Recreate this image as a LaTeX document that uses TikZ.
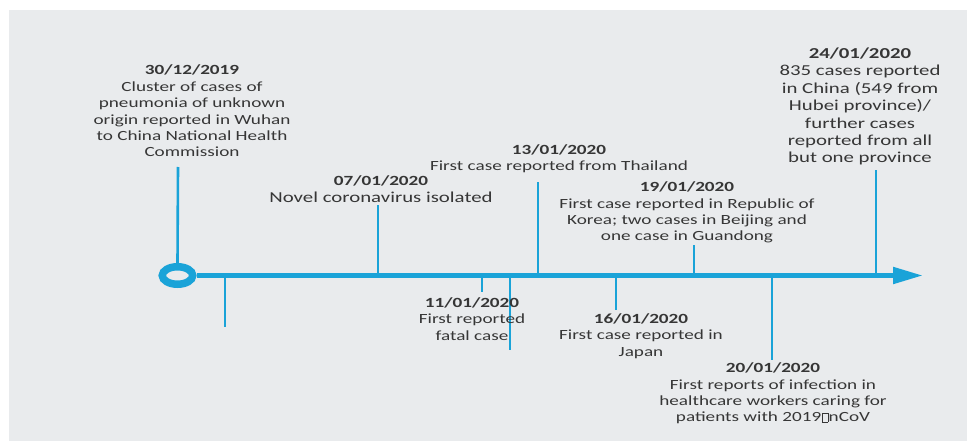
\documentclass[tikz,border=0pt]{standalone}
\usepackage{fontspec}
\setmainfont{Carlito}[FakeStretch=1.37]
\usetikzlibrary{arrows.meta,shapes.geometric}
\definecolor{panelgrey}{HTML}{E9EBED}
\definecolor{tlblue}{HTML}{1AA3D8}
\definecolor{txtgrey}{HTML}{363636}
\newcommand\basefs{\fontsize{14}{16.4}\selectfont}
\newcommand\bigfs{\fontsize{15.2}{17.4}\selectfont}
\newcommand\tofubox{{\setlength\fboxsep{0pt}\setlength\fboxrule{0.6pt}\kern0.6pt\fbox{\rule{0pt}{0.62em}\hspace{0.36em}}\kern0.6pt}}
\tikzset{
  evtext/.style={align=center, inner sep=0pt, text=txtgrey, font=\basefs},
  evbig/.style={evtext, font=\bigfs},
  tick/.style={draw=tlblue, line width=2.6pt},
  axisline/.style={draw=tlblue, line width=5pt},
}
\begin{document}
\begin{tikzpicture}[x=1pt,y=-1pt]
\useasboundingbox (0,0) rectangle (967,441);
\fill[white] (0,0) rectangle (967,441);
\fill[panelgrey] (9,10) rectangle (967,441);

% axis
\node[ellipse, draw=tlblue, line width=7.5pt, fill=panelgrey, minimum width=30.5pt, minimum height=17.5pt, inner sep=0pt] (start) at (177.5,275.5) {};
\coordinate (tip) at (923,275.5);
\draw[axisline, -{Triangle[length=30pt,width=16pt]}] (start.east) -- (tip);

% tick coordinates on axis
\foreach \n/\x in {a/225, b/378, c/482, d/510, e/538, f/616, g/694, h/772, i/876}
  \coordinate (ax\n) at (\x,275.5);
\coordinate (endq) at (178,167);
\coordinate (enda) at (225,327);
\coordinate (endb) at (378,205);
\coordinate (endc) at (482,292);
\coordinate (endd) at (510,350);
\coordinate (ende) at (538,182);
\coordinate (endf) at (616,310);
\coordinate (endg) at (694,245);
\coordinate (endh) at (772,360);
\coordinate (endi) at (876,170);

\draw[tick] (start.north) -- (endq);
\foreach \n in {a,b,c,d,e,f,g,h,i}
  \draw[tick] (ax\n) -- (end\n);

% texts
\node[evtext] (t1) at (192,111) {\textbf{30/12/2019}\\Cluster of cases of\\pneumonia of unknown\\origin reported in Wuhan\\to China National Health\\Commission};
\node[evtext] (t2) at (381,189) {\textbf{07/01/2020}\\{\bigfs Novel coronavirus isolated}};
\node[evtext] (t3) at (559,158.5) {\textbf{13/01/2020}\\First case reported from Thailand};
\node[evtext] (t4) at (472,319) {\textbf{11/01/2020}\\First reported\\fatal case};
\node[evtext] (t5) at (641,336) {\textbf{16/01/2020}\\First case reported in\\Japan};
\node[evtext] (t6) at (687,212.5) {\textbf{19/01/2020}\\First case reported in Republic of\\Korea; two cases in Beijing and\\one case in Guandong};
\node[evtext] (t7) at (773,393.5) {\textbf{20/01/2020}\\First reports of infection in\\healthcare workers caring for\\patients with 2019\tofubox nCoV};
\node[evbig] (t8) at (860,106.5) {\textbf{24/01/2020}\\835 cases reported\\in China (549 from\\Hubei province)/\\further cases\\reported from all\\but one province};
\end{tikzpicture}
\end{document}
